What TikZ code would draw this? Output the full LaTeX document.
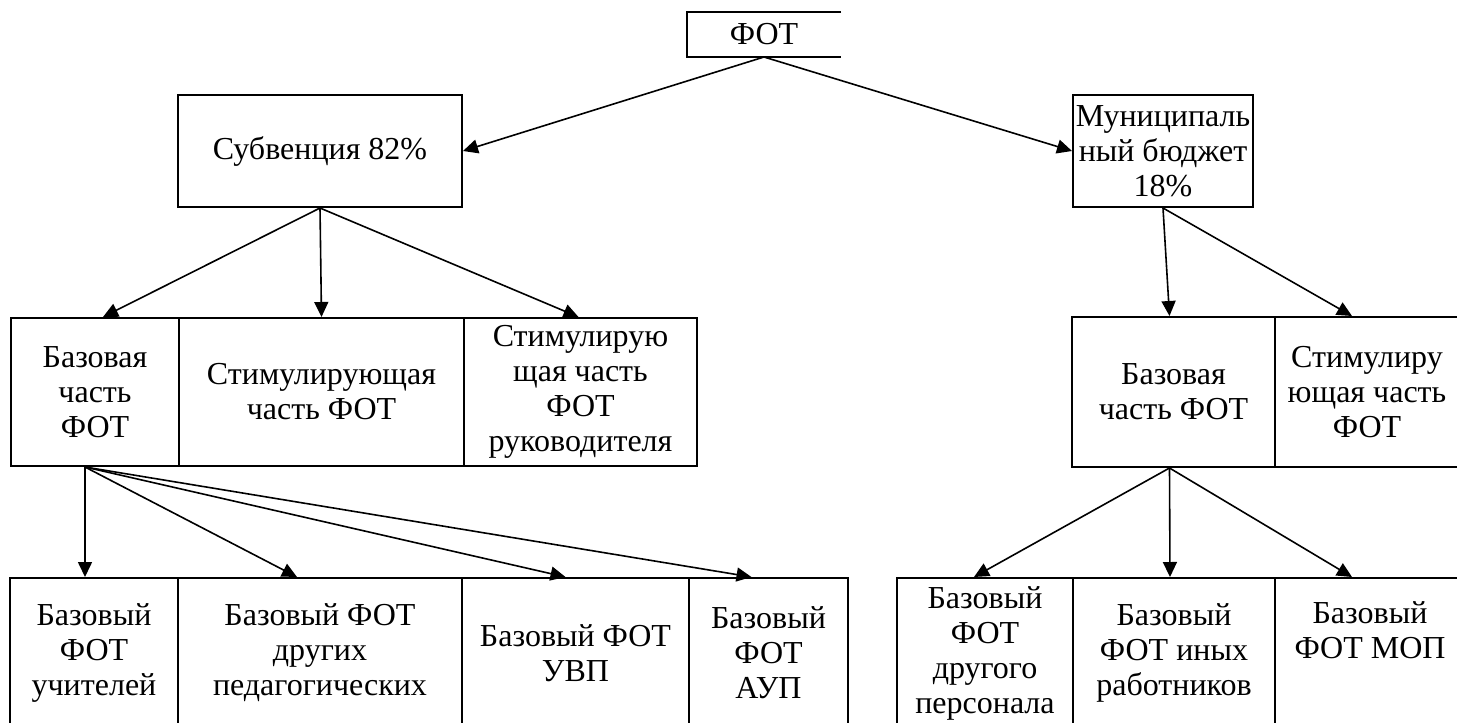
\documentclass[tikz,border=0pt]{standalone}
\usepackage{fontspec}
\setmainfont{Liberation Serif}
\usepackage{tikz}
\usetikzlibrary{arrows.meta,positioning}

\tikzset{
  box/.style={draw, line width=2pt, inner sep=0pt, align=center, font=\fontsize{32}{35}\selectfont},
  openbox/.style={box, draw=none},
  arr/.style={-{Triangle[length=15pt,width=14pt]}, line width=1.6pt}
}

\begin{document}
\begin{tikzpicture}[x=1pt,y=1pt,yscale=-1,xscale=1]
  \useasboundingbox (0,0) rectangle (1457,723);
  \clip (0,0) rectangle (1457,723);

  % Top box (no right side)
  \node[openbox, minimum width=152pt, minimum height=43pt] (fot) at (764,34.5) {ФОТ};
  \draw[line width=2pt] (fot.north east) -- (fot.north west) -- (fot.south west) -- (fot.south east);

  % Sources
  \node[box, minimum width=284pt, minimum height=112pt] (sub) at (320,151) {Субвенция 82\%};
  \node[box, minimum width=180pt, minimum height=112pt] (mun) at (1163,151) {Муниципаль\\ный бюджет\\18\%};

  % Parts, left
  \node[box, minimum width=168pt, minimum height=148pt] (bl1) at (95,392) {Базовая\\часть\\ФОТ};
  \node[box, minimum width=285pt, minimum height=148pt] (bl2) at (321.5,392) {Стимулирующая\\часть ФОТ};
  \node[box, minimum width=233pt, minimum height=148pt] (bl3) at (580.5,392) {Стимулирую\\щая часть\\ФОТ\\руководителя};

  % Parts, right
  \node[box, minimum width=203pt, minimum height=150pt] (br1) at (1173.5,392) {Базовая\\часть ФОТ};
  \node[box, minimum width=184pt, minimum height=150pt] (br2) at (1367,392) {Стимулиру\\ющая часть\\ФОТ};

  % Base funds, left
  \node[box, minimum width=168pt, minimum height=150pt] (tl1) at (94,653) {Базовый\\ФОТ\\учителей};
  \node[box, minimum width=284pt, minimum height=150pt] (tl2) at (320,653) {Базовый ФОТ\\других\\педагогических};
  \node[box, minimum width=227pt, minimum height=150pt] (tl3) at (575.5,653) {Базовый ФОТ\\УВП};
  \node[box, minimum width=159pt, minimum height=150pt] (tl4) at (768.5,653) {Базовый\\ФОТ\\АУП};

  % Base funds, right
  \node[box, minimum width=176pt, minimum height=150pt] (tr1) at (985,653) {Базовый\\ФОТ\\другого\\персонала};
  \node[box, minimum width=202pt, minimum height=150pt] (tr2) at (1174,653) {Базовый\\ФОТ иных\\работников};
  \node[box, minimum width=190pt, minimum height=150pt] (tr3) at (1370,653) {Базовый\\ФОТ МОП\\\strut};

  % Arrows
  \draw[arr] (fot.south) -- (sub.east);
  \draw[arr] (fot.south) -- (mun.west);

  \draw[arr] (sub.south) -- ([xshift=8pt]bl1.north);
  \draw[arr] (sub.south) -- (bl2.north);
  \draw[arr] (sub.south) -- ([xshift=-2pt]bl3.north);

  \draw[arr] (mun.south) -- ([xshift=-4pt]br1.north);
  \draw[arr] (mun.south) -- ([xshift=-15pt]br2.north);

  \coordinate (bl1out) at ([xshift=-10pt]bl1.south);
  \draw[arr] (bl1out) -- ([xshift=-9pt]tl1.north);
  \draw[arr] (bl1out) -- ([xshift=-23pt]tl2.north);
  \draw[arr] (bl1out) -- ([xshift=-10pt]tl3.north);
  \draw[arr] (bl1out) -- ([xshift=-17pt]tl4.north);

  \coordinate (br1out) at ([xshift=-4pt]br1.south);
  \draw[arr] (br1out) -- ([xshift=-11pt]tr1.north);
  \draw[arr] (br1out) -- ([xshift=-4pt]tr2.north);
  \draw[arr] (br1out) -- ([xshift=-18pt]tr3.north);

\end{tikzpicture}
\end{document}
